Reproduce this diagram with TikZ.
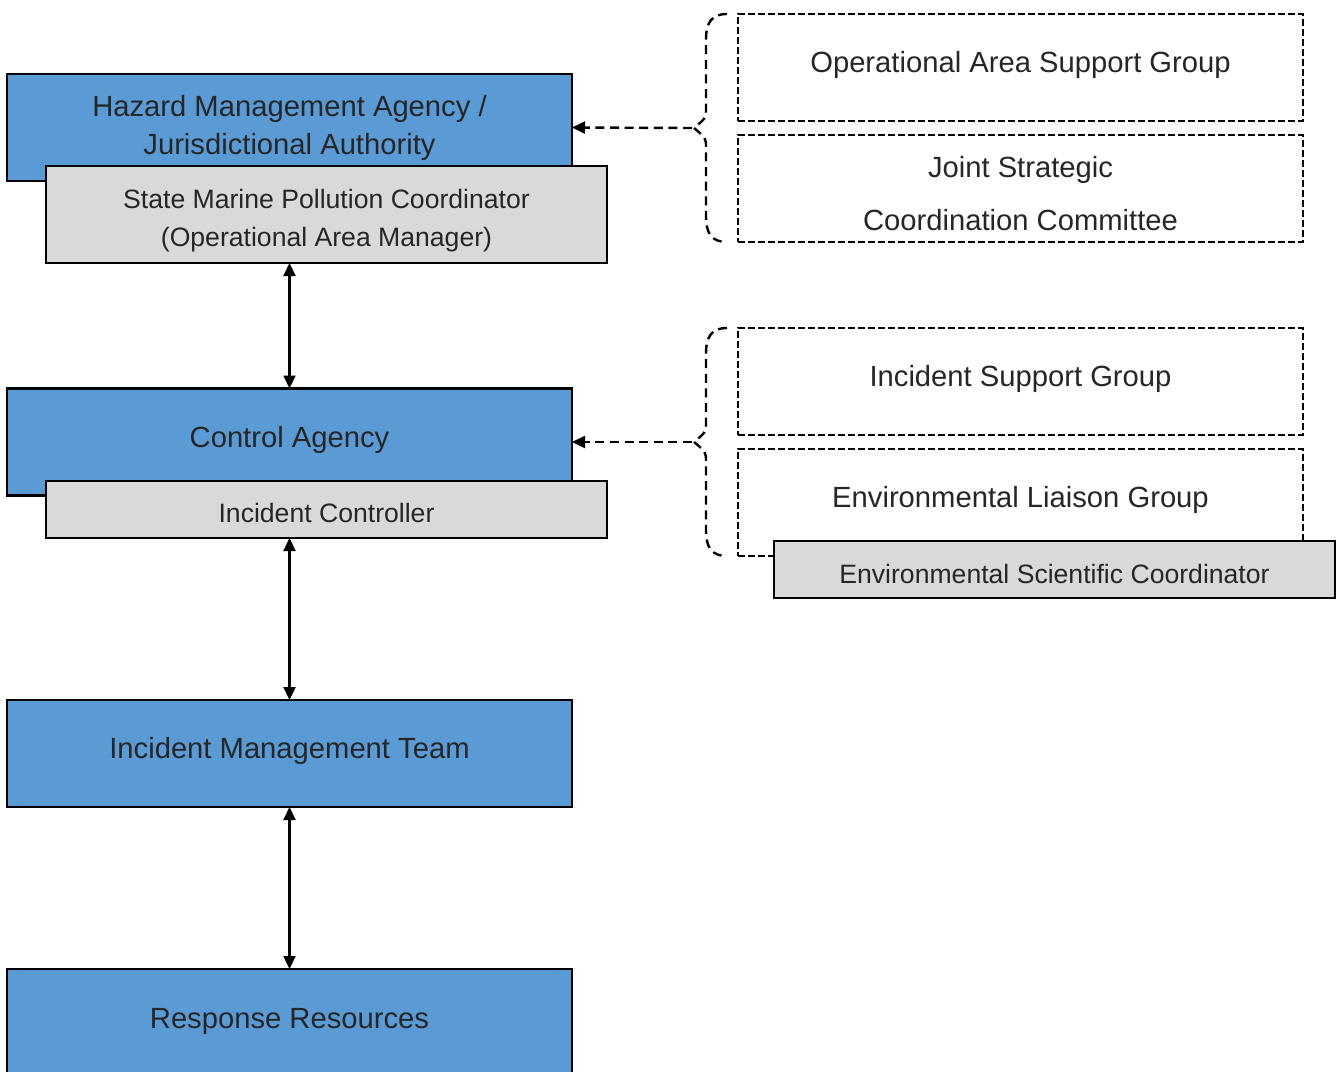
\documentclass[tikz,border=0pt]{standalone}
\usepackage{fontspec}
\setmainfont{Liberation Sans}
\usetikzlibrary{arrows.meta}
\definecolor{bluebox}{HTML}{5B9BD5}
\definecolor{graybox}{HTML}{D9D9D9}
\definecolor{txt}{HTML}{262626}
\tikzset{
  bluestyle/.style={draw=black, fill=bluebox, line width=1.1pt, inner sep=0pt, outer sep=0pt, minimum width=282.5pt, minimum height=53.5pt},
  graystyle/.style={draw=black, fill=graybox, line width=1.1pt, inner sep=0pt, outer sep=0pt, minimum width=280.5pt},
  dashstyle/.style={draw=black, line width=1.1pt, dash pattern=on 3.5pt off 1.5pt, inner sep=0pt, outer sep=0pt, minimum width=282.5pt, minimum height=53.5pt},
  bigtxt/.style={anchor=base, inner sep=0pt, text=txt, font=\fontsize{14.6pt}{17pt}\selectfont},
  smalltxt/.style={anchor=base, inner sep=0pt, text=txt, font=\fontsize{13.3pt}{16pt}\selectfont},
  bothway/.style={line width=1.1pt, {Triangle[length=6.5pt,width=6pt]}-{Triangle[length=6.5pt,width=6pt]}},
  dasharrow/.style={line width=1.2pt, dash pattern=on 4.5pt off 2.8pt, -{Triangle[length=6.5pt,width=6pt]}},
  bracestyle/.style={line width=1.2pt, dash pattern=on 4.5pt off 2.8pt}
}
\begin{document}
\begin{tikzpicture}[x=0.5pt,y=-0.5pt]
\clip (0,0) rectangle (1338,1071);
\fill[white] (0,0) rectangle (1338,1071);

% left column
\node[bluestyle] (hma) at (289.5,127.5) {};
\node[bigtxt] (hmat1) at (289.5,116) {Hazard Management Agency /};
\node[bigtxt] (hmat2) at (289.5,154) {Jurisdictional Authority};
\node[graystyle, minimum height=48.5pt] (smpc) at (326.5,214.5) {};
\node[smalltxt] (smpct1) at (326.5,208) {State Marine Pollution Coordinator};
\node[smalltxt] (smpct2) at (326.5,246) {(Operational Area Manager)};

\node[bluestyle] (ca) at (289.5,442) {};
\node[bigtxt] (cat) at (289.5,447) {Control Agency};
\node[graystyle, minimum height=28.5pt] (ic) at (326.5,509.5) {};
\node[smalltxt] (ict) at (326.5,522) {Incident Controller};

\node[bluestyle] (imt) at (289.5,753.5) {};
\node[bigtxt] (imtt) at (289.5,758) {Incident Management Team};

\node[bluestyle] (rr) at (289.5,1022.5) {};
\node[bigtxt] (rrt) at (289.5,1028) {Response Resources};

% right column
\node[dashstyle] (oasg) at (1020.5,67.5) {};
\node[bigtxt] (oasgt) at (1020.5,72) {Operational Area Support Group};
\node[dashstyle] (jscc) at (1020.5,188.5) {};
\node[bigtxt] (jscct1) at (1020.5,177) {Joint Strategic};
\node[bigtxt] (jscct2) at (1020.5,230) {Coordination Committee};

\node[dashstyle] (isg) at (1020.5,381.5) {};
\node[bigtxt] (isgt) at (1020.5,386) {Incident Support Group};
\node[dashstyle] (elg) at (1020.5,502.5) {};
\node[bigtxt] (elgt) at (1020.5,507) {Environmental Liaison Group};
\node[graystyle, minimum height=28.5pt] (esc) at (1054.5,569.5) {};
\node[smalltxt] (esct) at (1054.5,583) {Environmental Scientific Coordinator};

% braces
\draw[bracestyle] (727,14) .. controls (712,14) and (706,22) .. (706,40) -- (706,108) .. controls (706,118) .. (694,128)
  .. controls (706,138) .. (706,148) -- (706,216) .. controls (706,234) and (712,242) .. (727,242);
\coordinate (b1) at (692,128);
\draw[bracestyle] (727,328) .. controls (712,328) and (706,336) .. (706,354) -- (706,422) .. controls (706,432) .. (694,442)
  .. controls (706,452) .. (706,462) -- (706,530) .. controls (706,548) and (712,556) .. (727,556);
\coordinate (b2) at (692,442);

\draw[dasharrow] (b1) -- (hma.east);
\draw[dasharrow] (b2) -- (ca.east);

% vertical arrows
\draw[bothway] (ca.north |- smpc.south) -- (ca.north);
\draw[bothway] (imt.north |- ic.south) -- (imt.north);
\draw[bothway] (imt.south) -- (rr.north);
\end{tikzpicture}
\end{document}
